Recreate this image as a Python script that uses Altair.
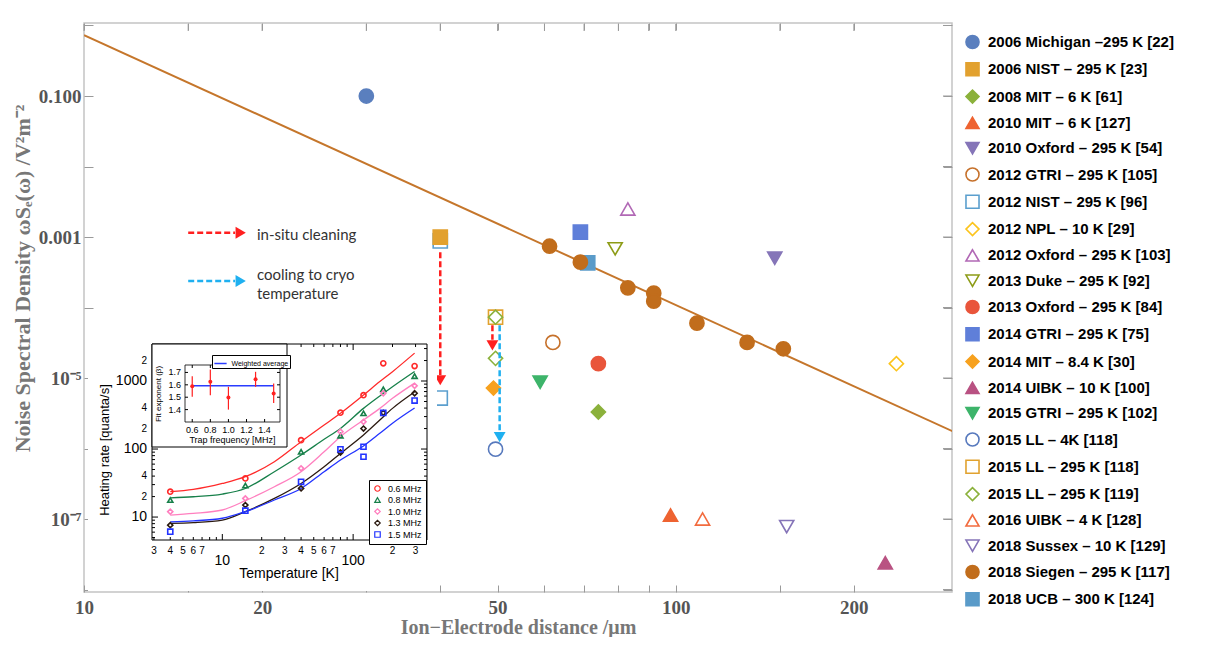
import altair as alt
import pandas as pd

# ---------------- main chart: legend entries ----------------
labels = [
    "2006 Michigan –295 K [22]",
    "2006 NIST – 295 K [23]",
    "2008 MIT – 6 K [61]",
    "2010 MIT – 6 K [127]",
    "2010 Oxford – 295 K [54]",
    "2012 GTRI – 295 K [105]",
    "2012 NIST – 295 K [96]",
    "2012 NPL – 10 K [29]",
    "2012 Oxford – 295 K [103]",
    "2013 Duke – 295 K [92]",
    "2013 Oxford – 295 K [84]",
    "2014 GTRI – 295 K [75]",
    "2014 MIT – 8.4 K [30]",
    "2014 UIBK – 10 K [100]",
    "2015 GTRI – 295 K [102]",
    "2015 LL – 4K [118]",
    "2015 LL – 295 K [118]",
    "2015 LL – 295 K [119]",
    "2016 UIBK – 4 K [128]",
    "2018 Sussex – 10 K [129]",
    "2018 Siegen – 295 K [117]",
    "2018 UCB – 300 K [124]",
]
label_colors = [
    "#5a7fbe", "#e2a12f", "#8bb13b", "#ee6331", "#8575b8",
    "#c6712b", "#5b9fce", "#fcc41c", "#b168b5", "#8d9c17",
    "#e9553b", "#5f7fd9", "#f7a11e", "#b95282", "#3db46a",
    "#5779bd", "#e1a22f", "#8bb13b", "#f26b3e", "#8574b8",
    "#c16d1c", "#5a9bc9",
]
label_shapes = [
    "circle", "square", "diamond", "triangle-up", "triangle-down",
    "circle", "square", "diamond", "triangle-up", "triangle-down",
    "circle", "square", "diamond", "triangle-up", "triangle-down",
    "circle", "square", "diamond", "triangle-up", "triangle-down",
    "circle", "square",
]
label_open = [
    False, False, False, False, False,
    True, True, True, True, True,
    False, False, False, False, False,
    True, True, True, True, True,
    False, False,
]

# ---------------- main chart: measured points (draw order) ----------------
pt_label = [
    "2012 NIST – 295 K [96]", "2012 NIST – 295 K [96]",
    "2006 NIST – 295 K [23]",
    "2006 Michigan –295 K [22]",
    "2008 MIT – 6 K [61]",
    "2010 MIT – 6 K [127]",
    "2010 Oxford – 295 K [54]",
    "2012 GTRI – 295 K [105]",
    "2012 NPL – 10 K [29]",
    "2012 Oxford – 295 K [103]",
    "2013 Duke – 295 K [92]",
    "2013 Oxford – 295 K [84]",
    "2014 GTRI – 295 K [75]",
    "2014 MIT – 8.4 K [30]",
    "2014 UIBK – 10 K [100]",
    "2015 GTRI – 295 K [102]",
    "2015 LL – 4K [118]",
    "2015 LL – 295 K [118]",
    "2015 LL – 295 K [119]", "2015 LL – 295 K [119]",
    "2016 UIBK – 4 K [128]",
    "2018 Sussex – 10 K [129]",
    "2018 UCB – 300 K [124]",
    "2018 Siegen – 295 K [117]", "2018 Siegen – 295 K [117]",
    "2018 Siegen – 295 K [117]", "2018 Siegen – 295 K [117]",
    "2018 Siegen – 295 K [117]", "2018 Siegen – 295 K [117]",
    "2018 Siegen – 295 K [117]", "2018 Siegen – 295 K [117]",
]
pt_dist = [40, 40, 40, 30, 74, 98, 147, 62, 236, 83, 79, 74, 69, 49.2, 226,
           59, 49.6, 49.6, 49.6, 49.6, 111, 154, 71,
           61.2, 69, 83, 91.8, 91.8, 108.6, 132, 152]
pt_nsd = [8.8e-4, 5.2e-6, 1.0e-3, 0.1, 3.3e-6, 1.14e-7, 5.0e-4, 3.2e-5, 1.6e-5,
          2.5e-3, 6.8e-4, 1.6e-5, 1.17e-3, 7.2e-6, 2.4e-8, 8.7e-6, 9.8e-7,
          7.3e-5, 7.3e-5, 1.9e-5, 1.0e-7, 7.8e-8, 4.3e-4,
          7.4e-4, 4.4e-4, 1.9e-4, 1.6e-4, 1.23e-4, 6.0e-5, 3.2e-5, 2.6e-5]

# ---------------- d^-4 guide line ----------------
fit_dist = [10, 300]
fit_nsd = [0.73, 1.62e-6]

# ---------------- arrows ----------------
arrow_dist = [40, 49.0, 50.4]
arrow_from = [6.1e-4, 5.6e-5, 5.6e-5]
arrow_to = [1.1e-5, 3.5e-5, 1.66e-6]
arrow_head = [9.3e-6, 2.9e-5, 1.45e-6]
arrow_color = ["#ff1f1f", "#ff1f1f", "#1fb0f0"]

key_from = [15.0, 15.0]
key_to = [18.0, 18.0]
key_head = [18.4, 18.4]
key_nsd = [1.15e-3, 2.38e-4]
key_color = ["#ff1f1f", "#1fb0f0"]

note_text = ["in-situ cleaning", "cooling to cryo", "temperature"]
note_dist = [19.6, 19.6, 19.6]
note_nsd = [1.07e-3, 2.89e-4, 1.55e-4]

x_ticks = [10, 15, 20, 30, 40, 50, 60, 70, 80, 90, 100, 150, 200]
y_ticks = [1e-8, 1e-7, 1e-6, 1e-5, 1e-4, 1e-3, 1e-2, 1e-1, 1]

# ---------------- inset: heating rate vs temperature ----------------
freqs = ["0.6 MHz", "0.8 MHz", "1.0 MHz", "1.3 MHz", "1.5 MHz"]
freq_colors = ["#ff2a2a", "#17804a", "#ff7fbf", "#2b1a10", "#2233ff"]
freq_shapes = ["circle", "triangle-up", "diamond", "diamond", "square"]

meas_T = [4, 15, 40, 80, 120, 170, 295]
rate_06 = [23.6, 37, 135, 342, 620, 1820, 1660]
rate_08 = [17.8, 29, 91, 157, 335, 755, 1180]
rate_10 = [12, 18.8, 52, 180, 251, 660, 850]
rate_13 = [7.6, 15, 26.4, 89, 200, 340, 660]
rate_15 = [6.1, 12.4, 33, 99, 108, 340, 516]
extra_T = [120]
extra_15 = [77]

curve_T = [4, 6, 10, 15, 25, 40, 60, 80, 120, 160, 200, 295]
curve_06 = [23.6, 25.5, 31.2, 39.2, 65, 128, 225, 335, 622, 980, 1372, 2570]
curve_08 = [19.2, 19.9, 21.8, 26.3, 46.4, 81.7, 139, 201, 396, 603, 824, 1380]
curve_10 = [10.7, 11.3, 12.7, 17.4, 27.9, 46.4, 91, 152, 267, 396, 556, 930]
curve_13 = [8.1, 8.3, 9.0, 12, 18.8, 31.2, 55, 86.3, 161, 267, 396, 690]
curve_15 = [8.5, 8.8, 9.6, 12, 17.8, 26.3, 46.4, 68.9, 111, 170, 239, 400]

inset_x_major = [10, 100]
inset_x_minor = [3, 4, 5, 6, 7, 8, 9, 20, 30, 40, 50, 60, 70, 80, 90, 200, 300]
inset_y_major = [10, 100, 1000]
inset_y_minor = [5, 6, 7, 8, 9, 20, 30, 40, 50, 60, 70, 80, 90,
                 200, 300, 400, 500, 600, 700, 800, 900, 2000, 3000]
inset_xlab_major = ["10", "100"]
inset_xlab_minor_val = [3, 4, 5, 6, 7, 20, 30, 40, 50, 60, 70, 200, 300]
inset_xlab_minor = ["3", "4", "5", "6", "7", "2", "3", "4", "5", "6", "7", "2", "3"]
inset_ylab_major = ["10", "100", "1000"]
inset_ylab_minor_val = [20, 40, 200, 400, 2000]
inset_ylab_minor = ["2", "4", "2", "4", "2"]

# ---------------- nested inset: fit exponent ----------------
trap_freq = [0.6, 0.8, 1.0, 1.3, 1.5]
beta = [1.589, 1.624, 1.497, 1.646, 1.530]
beta_lo = [1.503, 1.516, 1.400, 1.584, 1.454]
beta_hi = [1.670, 1.724, 1.584, 1.705, 1.611]
avg_from = [0.6]
avg_to = [1.5]
avg_beta = [1.592]
nest_xticks = [0.6, 0.8, 1.0, 1.2, 1.4]
nest_xlabels = ["0.6", "0.8", "1.0", "1.2", "1.4"]
nest_yticks = [1.4, 1.5, 1.6, 1.7]
nest_ylabels = ["1.4", "1.5", "1.6", "1.7"]

# ================= build =================
W, H = 868, 569
X_MAIN = alt.Scale(type="log", domain=[10, 293], nice=False)
Y_MAIN = alt.Scale(type="log", domain=[9.23e-9, 1.085], nice=False)

SERIF = "Liberation Serif"
SANS = "Liberation Sans"
TICK_GRAY = "#9a9a9a"

y_label_expr = ("round(log(datum.value)/LN10) == -1 ? '0.100' : "
                "(round(log(datum.value)/LN10) == -3 ? '0.001' : "
                "(round(log(datum.value)/LN10) == -5 ? '10⁻⁵' : "
                "(round(log(datum.value)/LN10) == -7 ? '10⁻⁷' : '')))")

x_axis_main = alt.Axis(
    orient="bottom", values=x_ticks, offset=-7, tickSize=7, tickColor=TICK_GRAY,
    domain=False, grid=False,
    labelExpr="indexof([10,20,50,100,200], datum.value) >= 0 ? '' + datum.value : ''",
    labelFont=SERIF, labelFontWeight="bold", labelFontSize=19, labelColor="#555555",
    labelPadding=6, labelFlush=False, labelOverlap=False,
    title="Ion−Electrode distance /μm", titleFont=SERIF, titleFontSize=20,
    titleFontWeight="bold", titleColor="#777777", titleY=42, titleBaseline="middle",
)
y_axis_main = alt.Axis(
    orient="left", values=y_ticks, offset=-9, tickSize=9, tickColor=TICK_GRAY,
    domain=False, grid=False, labelExpr=y_label_expr,
    labelFont=SERIF, labelFontWeight="bold", labelFontSize=19, labelColor="#555555",
    labelPadding=3, labelFlush=False, labelOverlap=False,
    title="Noise Spectral Density ωSₑ(ω) /V²m⁻²", titleFont=SERIF, titleFontSize=22,
    titleFontWeight="bold", titleColor="#777777", titleX=-71, titleY=255,
    titleBaseline="middle",
)
x_axis_top = alt.Axis(orient="top", values=x_ticks, offset=-7, tickSize=7,
                      tickColor=TICK_GRAY, domain=False, grid=False, labels=False, title=None)
y_axis_right = alt.Axis(orient="right", values=y_ticks, offset=-9, tickSize=9,
                        tickColor=TICK_GRAY, domain=False, grid=False, labels=False, title=None)

main_legend = alt.Legend(
    orient="none", legendX=881, legendY=11.5, title=None,
    labelFont=SANS, labelFontWeight="bold", labelFontSize=15, labelColor="#000000",
    symbolSize=170, symbolStrokeWidth=1.6, rowPadding=6.3, labelOffset=8, labelLimit=400,
)

fill_range = ["transparent" if o else c for c, o in zip(label_colors, label_open)]

pts_df = pd.DataFrame({"label": pt_label, "dist": pt_dist, "nsd": pt_nsd,
                       "ord": list(range(len(pt_label)))})
points = alt.Chart(pts_df).mark_point(size=200, opacity=1, strokeWidth=1.6).encode(
    x=alt.X("dist:Q", scale=X_MAIN, axis=x_axis_main),
    y=alt.Y("nsd:Q", scale=Y_MAIN, axis=y_axis_main),
    fill=alt.Fill("label:N", scale=alt.Scale(domain=labels, range=fill_range), legend=main_legend),
    stroke=alt.Stroke("label:N", scale=alt.Scale(domain=labels, range=label_colors), legend=main_legend),
    shape=alt.Shape("label:N", scale=alt.Scale(domain=labels, range=label_shapes), legend=main_legend),
    order="ord:Q",
)

fit_df = pd.DataFrame({"dist": fit_dist, "nsd": fit_nsd})
fit_line = alt.Chart(fit_df).mark_line(color="#c5762b", strokeWidth=2, clip=True).encode(
    x=alt.X("dist:Q", scale=X_MAIN, axis=x_axis_top),
    y=alt.Y("nsd:Q", scale=Y_MAIN, axis=y_axis_right),
)

# mirror ticks along the top and right frame edges
top_ticks = alt.Chart(pd.DataFrame({"v": x_ticks})).mark_rule(color=TICK_GRAY, strokeWidth=1).encode(
    x=alt.X("v:Q", scale=X_MAIN, axis=None), y=alt.value(1), y2=alt.value(8))
right_ticks = alt.Chart(pd.DataFrame({"v": y_ticks})).mark_rule(color=TICK_GRAY, strokeWidth=1).encode(
    y=alt.Y("v:Q", scale=Y_MAIN, axis=None), x=alt.value(W - 9), x2=alt.value(W))

arr_df = pd.DataFrame({"dist": arrow_dist, "a": arrow_from, "b": arrow_to,
                       "h": arrow_head, "c": arrow_color})
arr_shaft = alt.Chart(arr_df).mark_rule(strokeWidth=2.5, strokeDash=[6, 3]).encode(
    x=alt.X("dist:Q", scale=X_MAIN, axis=None),
    y=alt.Y("a:Q", scale=Y_MAIN, axis=None), y2="b:Q",
    color=alt.Color("c:N", scale=None),
)
arr_head = alt.Chart(arr_df).mark_point(shape="triangle-down", filled=True, size=140, opacity=1).encode(
    x=alt.X("dist:Q", scale=X_MAIN, axis=None),
    y=alt.Y("h:Q", scale=Y_MAIN, axis=None),
    color=alt.Color("c:N", scale=None),
)

key_df = pd.DataFrame({"a": key_from, "b": key_to, "h": key_head, "nsd": key_nsd, "c": key_color})
key_shaft = alt.Chart(key_df).mark_rule(strokeWidth=2.5, strokeDash=[6, 3]).encode(
    x=alt.X("a:Q", scale=X_MAIN, axis=None), x2="b:Q",
    y=alt.Y("nsd:Q", scale=Y_MAIN, axis=None),
    color=alt.Color("c:N", scale=None),
)
key_headm = alt.Chart(key_df).mark_point(shape="triangle-right", filled=True, size=140, opacity=1).encode(
    x=alt.X("h:Q", scale=X_MAIN, axis=None),
    y=alt.Y("nsd:Q", scale=Y_MAIN, axis=None),
    color=alt.Color("c:N", scale=None),
)
note_df = pd.DataFrame({"t": note_text, "dist": note_dist, "nsd": note_nsd})
notes = alt.Chart(note_df).mark_text(align="left", baseline="middle", font="Lato",
                                     fontSize=15, color="#333333").encode(
    x=alt.X("dist:Q", scale=X_MAIN, axis=None),
    y=alt.Y("nsd:Q", scale=Y_MAIN, axis=None),
    text="t:N",
)

main = alt.layer(fit_line, points, top_ticks, right_ticks, arr_shaft, arr_head,
                 key_shaft, key_headm, notes).resolve_axis(x="independent", y="independent")

# ---------------- inset ----------------
X_IN = alt.Scale(type="log", domain=[2.9, 367], range=[68, 343], nice=False)
Y_IN = alt.Scale(type="log", domain=[4.6, 3500], range=[517, 321], nice=False)
IN_L, IN_R, IN_T, IN_B = 68, 343, 321, 517

one = pd.DataFrame({"k": [0]})
inset_bg = alt.Chart(one).mark_rect(color="white").encode(
    x=alt.value(4), x2=alt.value(353), y=alt.value(320), y2=alt.value(568))
inset_frame = alt.Chart(one).mark_rect(fill="white", fillOpacity=0, stroke="black", strokeWidth=1).encode(
    x=alt.value(IN_L), x2=alt.value(IN_R), y=alt.value(IN_T), y2=alt.value(IN_B))


def xticks(vals, scale, top, bottom, length):
    d = pd.DataFrame({"v": vals})
    lo = alt.Chart(d).mark_rule(color="black", strokeWidth=1).encode(
        x=alt.X("v:Q", scale=scale, axis=None), y=alt.value(bottom - length), y2=alt.value(bottom))
    hi = alt.Chart(d).mark_rule(color="black", strokeWidth=1).encode(
        x=alt.X("v:Q", scale=scale, axis=None), y=alt.value(top), y2=alt.value(top + length))
    return [lo, hi]


def yticks(vals, scale, left, right, length):
    d = pd.DataFrame({"v": vals})
    lf = alt.Chart(d).mark_rule(color="black", strokeWidth=1).encode(
        y=alt.Y("v:Q", scale=scale, axis=None), x=alt.value(left), x2=alt.value(left + length))
    rt = alt.Chart(d).mark_rule(color="black", strokeWidth=1).encode(
        y=alt.Y("v:Q", scale=scale, axis=None), x=alt.value(right - length), x2=alt.value(right))
    return [lf, rt]


def xlabels(vals, texts, scale, ypix, size):
    d = pd.DataFrame({"v": vals, "t": texts})
    return alt.Chart(d).mark_text(font=SANS, fontSize=size, color="black",
                                  align="center", baseline="middle").encode(
        x=alt.X("v:Q", scale=scale, axis=None), y=alt.value(ypix), text="t:N")


def ylabels(vals, texts, scale, xpix, size):
    d = pd.DataFrame({"v": vals, "t": texts})
    return alt.Chart(d).mark_text(font=SANS, fontSize=size, color="black",
                                  align="right", baseline="middle").encode(
        y=alt.Y("v:Q", scale=scale, axis=None), x=alt.value(xpix), text="t:N")


def title_text(text, xpix, ypix, size, angle=0):
    d = pd.DataFrame({"t": [text]})
    return alt.Chart(d).mark_text(font=SANS, fontSize=size, color="black", angle=angle,
                                  align="center", baseline="middle").encode(
        x=alt.value(xpix), y=alt.value(ypix), text="t:N")


meas_rows = []
for f, vals in zip(freqs, [rate_06, rate_08, rate_10, rate_13, rate_15]):
    for t, v in zip(meas_T, vals):
        meas_rows.append({"T": t, "rate": v, "freq": f})
for t, v in zip(extra_T, extra_15):
    meas_rows.append({"T": t, "rate": v, "freq": freqs[4]})
meas_df = pd.DataFrame(meas_rows)

curve_rows = []
for f, col, vals in zip(freqs, freq_colors, [curve_06, curve_08, curve_10, curve_13, curve_15]):
    for t, v in zip(curve_T, vals):
        curve_rows.append({"T": t, "rate": v, "freq": f, "col": col})
curve_df = pd.DataFrame(curve_rows)

inset_legend = alt.Legend(
    orient="none", legendX=285, legendY=457, title=None, strokeColor="black",
    fillColor="white", padding=4, labelFont=SANS, labelFontSize=9, labelColor="black",
    symbolSize=30, symbolStrokeWidth=1.2, rowPadding=0.5, labelOffset=6,
)

inset_lines = alt.Chart(curve_df).mark_line(strokeWidth=1.3, interpolate="monotone").encode(
    x=alt.X("T:Q", scale=X_IN, axis=None),
    y=alt.Y("rate:Q", scale=Y_IN, axis=None),
    color=alt.Color("col:N", scale=None),
    detail="freq:N",
)
inset_pts = alt.Chart(meas_df).mark_point(size=26, strokeWidth=1.6, opacity=1, filled=False).encode(
    x=alt.X("T:Q", scale=X_IN, axis=None),
    y=alt.Y("rate:Q", scale=Y_IN, axis=None),
    stroke=alt.Stroke("freq:N", scale=alt.Scale(domain=freqs, range=freq_colors), legend=inset_legend),
    shape=alt.Shape("freq:N", scale=alt.Scale(domain=freqs, range=freq_shapes), legend=inset_legend),
)

inset_layers = [inset_bg, inset_frame]
inset_layers += xticks(inset_x_major, X_IN, IN_T, IN_B, 6)
inset_layers += xticks(inset_x_minor, X_IN, IN_T, IN_B, 3)
inset_layers += yticks(inset_y_major, Y_IN, IN_L, IN_R, 6)
inset_layers += yticks(inset_y_minor, Y_IN, IN_L, IN_R, 3)
inset_layers += [
    xlabels(inset_x_major, inset_xlab_major, X_IN, 538, 14),
    xlabels(inset_xlab_minor_val, inset_xlab_minor, X_IN, 528, 10),
    ylabels(inset_y_major, inset_ylab_major, Y_IN, 63, 14),
    ylabels(inset_ylab_minor_val, inset_ylab_minor, Y_IN, 63, 10),
    title_text("Temperature [K]", 205, 551, 14),
    title_text("Heating rate [quanta/s]", 21, 427, 13, 270),
    inset_lines, inset_pts,
]
inset = alt.layer(*inset_layers)

# ---------------- nested inset ----------------
X_NE = alt.Scale(domain=[0.52, 1.57], range=[101, 196], nice=False, zero=False)
Y_NE = alt.Scale(domain=[1.30, 1.76], range=[399, 342], nice=False, zero=False)
NE_L, NE_R, NE_T, NE_B = 101, 196, 342, 399

nest_bg = alt.Chart(one).mark_rect(fill="white", stroke="black", strokeWidth=1).encode(
    x=alt.value(68), x2=alt.value(203), y=alt.value(321), y2=alt.value(424))
nest_frame = alt.Chart(one).mark_rect(fill="white", fillOpacity=0, stroke="black", strokeWidth=0.8).encode(
    x=alt.value(NE_L), x2=alt.value(NE_R), y=alt.value(NE_T), y2=alt.value(NE_B))

nest_df = pd.DataFrame({"f": trap_freq, "b": beta, "lo": beta_lo, "hi": beta_hi})
nest_err = alt.Chart(nest_df).mark_rule(color="#ff2020", strokeWidth=1.2).encode(
    x=alt.X("f:Q", scale=X_NE, axis=None),
    y=alt.Y("lo:Q", scale=Y_NE, axis=None), y2="hi:Q",
)
nest_pts = alt.Chart(nest_df).mark_point(filled=True, size=16, color="#ff2020", opacity=1).encode(
    x=alt.X("f:Q", scale=X_NE, axis=None),
    y=alt.Y("b:Q", scale=Y_NE, axis=None),
)
avg_df = pd.DataFrame({"a": avg_from, "b": avg_to, "v": avg_beta, "kind": ["Weighted average"]})
nest_avg = alt.Chart(avg_df).mark_rule(strokeWidth=1.5).encode(
    x=alt.X("a:Q", scale=X_NE, axis=None), x2="b:Q",
    y=alt.Y("v:Q", scale=Y_NE, axis=None),
    color=alt.Color("kind:N", scale=alt.Scale(domain=["Weighted average"], range=["#2a3cff"]),
                    legend=alt.Legend(orient="none", legendX=128, legendY=332, title=None,
                                      strokeColor="black", fillColor="white", padding=1.5,
                                      labelFont=SANS, labelFontSize=7, labelColor="black",
                                      symbolType="stroke", symbolSize=150,
                                      symbolStrokeWidth=1.5, labelOffset=4)),
)

nest_layers = [nest_bg, nest_frame]
nest_layers += xticks(nest_xticks, X_NE, NE_T, NE_B, 3)
nest_layers += yticks(nest_yticks, Y_NE, NE_L, NE_R, 3)
nest_layers += [
    xlabels(nest_xticks, nest_xlabels, X_NE, 407, 9),
    ylabels(nest_yticks, nest_ylabels, Y_NE, 97, 9),
    title_text("Trap frequency [MHz]", 148.5, 417, 9),
    title_text("Fit exponent (β)", 75, 371, 8, 270),
    nest_avg, nest_err, nest_pts,
]
nested = alt.layer(*nest_layers)

chart = alt.layer(main, inset, nested).resolve_scale(
    x="independent", y="independent", color="independent",
    fill="independent", stroke="independent", shape="independent",
).properties(
    width=W, height=H,
    padding={"left": 76, "top": 15, "right": 254, "bottom": 45},
    autosize=alt.AutoSizeParams(type="none"),
    background="white",
).configure_view(stroke="#c4c4c4", strokeWidth=1.5)

chart.save("out.html", embed_options={"renderer": "svg", "actions": False})
